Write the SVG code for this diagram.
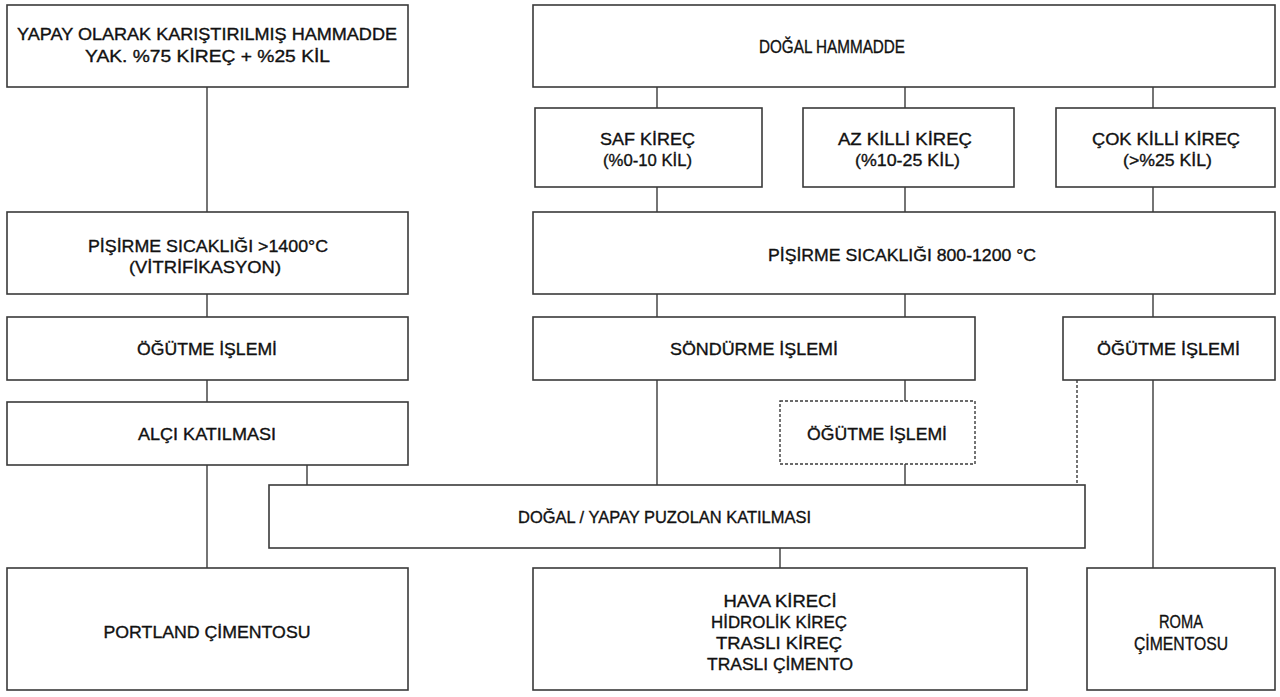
<svg xmlns="http://www.w3.org/2000/svg" width="1280" height="697" viewBox="0 0 1280 697">
<style>
.b{fill:#fff;stroke:#3a3a3a;stroke-width:1.6}
.d{fill:#fff;stroke:#3a3a3a;stroke-width:1.4;stroke-dasharray:3 2}
.t{font-family:"Liberation Sans",Arial,sans-serif;font-size:17px;fill:#111;stroke:#111;stroke-width:0.35;text-anchor:middle}
.n{font-size:18.5px}
.c{stroke:#3a3a3a;stroke-width:1.4;fill:none}
.cd{stroke:#3a3a3a;stroke-width:1.4;fill:none;stroke-dasharray:3 2}
</style>
<rect width="1280" height="697" fill="#fff"/>
<g id="connectors">
<line class="c" x1="207" y1="87" x2="207" y2="212"/>
<line class="c" x1="207" y1="294" x2="207" y2="317"/>
<line class="c" x1="207" y1="380" x2="207" y2="402"/>
<line class="c" x1="207" y1="465" x2="207" y2="568"/>
<line class="c" x1="307" y1="465" x2="307" y2="485"/>
<line class="c" x1="657" y1="87" x2="657" y2="108"/>
<line class="c" x1="905" y1="87" x2="905" y2="108"/>
<line class="c" x1="1153" y1="87" x2="1153" y2="108"/>
<line class="c" x1="657" y1="187" x2="657" y2="212"/>
<line class="c" x1="905" y1="187" x2="905" y2="212"/>
<line class="c" x1="1153" y1="187" x2="1153" y2="212"/>
<line class="c" x1="657" y1="294" x2="657" y2="317"/>
<line class="c" x1="905" y1="294" x2="905" y2="317"/>
<line class="c" x1="1153" y1="294" x2="1153" y2="317"/>
<line class="c" x1="657" y1="380" x2="657" y2="485"/>
<line class="c" x1="905" y1="380" x2="905" y2="401"/>
<line class="c" x1="905" y1="464" x2="905" y2="485"/>
<line class="cd" x1="1077" y1="380" x2="1077" y2="485"/>
<line class="c" x1="1153" y1="380" x2="1153" y2="568"/>
<line class="c" x1="780" y1="548" x2="780" y2="568"/>
</g>
<g id="yapay"><rect class="b" x="7" y="5" width="401" height="82"/>
<text class="t" x="207" y="40" textLength="380" lengthAdjust="spacingAndGlyphs">YAPAY OLARAK KARIŞTIRILMIŞ HAMMADDE</text>
<text class="t" x="207.5" y="62" textLength="245" lengthAdjust="spacingAndGlyphs">YAK. %75 KİREÇ + %25 KİL</text></g>
<g id="dogal"><rect class="b" x="533" y="5" width="742" height="82"/>
<text class="t n" x="832" y="53" textLength="146" lengthAdjust="spacingAndGlyphs">DOĞAL HAMMADDE</text></g>
<g id="saf"><rect class="b" x="535" y="108" width="227" height="79"/>
<text class="t" x="647.5" y="145" textLength="95" lengthAdjust="spacingAndGlyphs">SAF KİREÇ</text>
<text class="t" x="647.5" y="166" textLength="89" lengthAdjust="spacingAndGlyphs">(%0-10 KİL)</text></g>
<g id="az"><rect class="b" x="803" y="108" width="211" height="79"/>
<text class="t" x="905" y="145" textLength="134" lengthAdjust="spacingAndGlyphs">AZ KİLLİ KİREÇ</text>
<text class="t" x="907.5" y="166" textLength="105" lengthAdjust="spacingAndGlyphs">(%10-25 KİL)</text></g>
<g id="cok"><rect class="b" x="1056" y="108" width="219" height="79"/>
<text class="t" x="1166" y="145" textLength="148" lengthAdjust="spacingAndGlyphs">ÇOK KİLLİ KİREÇ</text>
<text class="t" x="1167.5" y="166" textLength="89" lengthAdjust="spacingAndGlyphs">(&gt;%25 KİL)</text></g>
<g id="pisirme1"><rect class="b" x="7" y="212" width="401" height="82"/>
<text class="t" x="208" y="252" textLength="240" lengthAdjust="spacingAndGlyphs">PİŞİRME SICAKLIĞI &gt;1400°C</text>
<text class="t" x="205" y="273" textLength="152" lengthAdjust="spacingAndGlyphs">(VİTRİFİKASYON)</text></g>
<g id="pisirme2"><rect class="b" x="533" y="212" width="742" height="82"/>
<text class="t" x="902" y="261" textLength="268" lengthAdjust="spacingAndGlyphs">PİŞİRME SICAKLIĞI 800-1200 °C</text></g>
<g id="ogutme1"><rect class="b" x="7" y="317" width="401" height="63"/>
<text class="t" x="207" y="355" textLength="140" lengthAdjust="spacingAndGlyphs">ÖĞÜTME İŞLEMİ</text></g>
<g id="sondurme"><rect class="b" x="533" y="317" width="442" height="63"/>
<text class="t" x="754" y="355" textLength="168" lengthAdjust="spacingAndGlyphs">SÖNDÜRME İŞLEMİ</text></g>
<g id="ogutme2"><rect class="b" x="1063" y="317" width="212" height="63"/>
<text class="t" x="1168.5" y="355" textLength="143" lengthAdjust="spacingAndGlyphs">ÖĞÜTME İŞLEMİ</text></g>
<g id="alci"><rect class="b" x="7" y="402" width="401" height="63"/>
<text class="t" x="207" y="440" textLength="138" lengthAdjust="spacingAndGlyphs">ALÇI KATILMASI</text></g>
<g id="ogutme3"><rect class="d" x="780" y="401" width="195" height="63"/>
<text class="t" x="877" y="440" textLength="140" lengthAdjust="spacingAndGlyphs">ÖĞÜTME İŞLEMİ</text></g>
<g id="puzolan"><rect class="b" x="269" y="485" width="816" height="63"/>
<text class="t" x="664.5" y="523" textLength="293" lengthAdjust="spacingAndGlyphs">DOĞAL / YAPAY PUZOLAN KATILMASI</text></g>
<g id="portland"><rect class="b" x="7" y="568" width="401" height="122"/>
<text class="t" x="207" y="638" textLength="207" lengthAdjust="spacingAndGlyphs">PORTLAND ÇİMENTOSU</text></g>
<g id="hava"><rect class="b" x="533" y="568" width="494" height="122"/>
<text class="t" x="780" y="607" textLength="113" lengthAdjust="spacingAndGlyphs">HAVA KİRECİ</text>
<text class="t" x="779" y="628" textLength="136" lengthAdjust="spacingAndGlyphs">HİDROLİK KİREÇ</text>
<text class="t" x="779" y="649" textLength="126" lengthAdjust="spacingAndGlyphs">TRASLI KİREÇ</text>
<text class="t" x="780" y="670" textLength="146" lengthAdjust="spacingAndGlyphs">TRASLI ÇİMENTO</text></g>
<g id="roma"><rect class="b" x="1087" y="568" width="188" height="122"/>
<text class="t n" x="1181" y="628" textLength="44" lengthAdjust="spacingAndGlyphs">ROMA</text>
<text class="t n" x="1181" y="650" textLength="94" lengthAdjust="spacingAndGlyphs">ÇİMENTOSU</text></g>
</svg>
